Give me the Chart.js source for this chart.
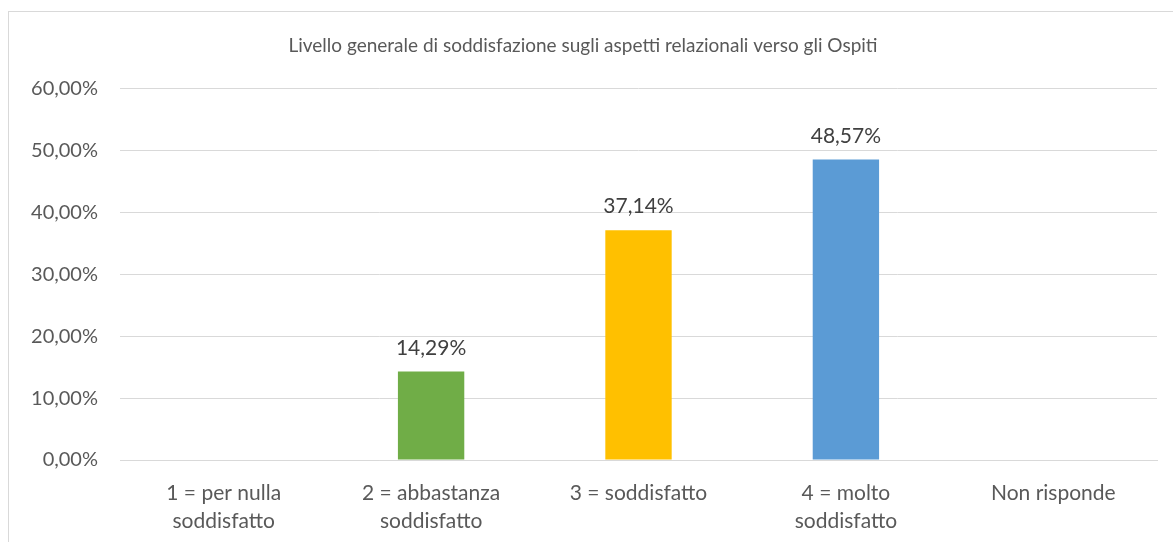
<!DOCTYPE html>
<html>
<head>
<meta charset="utf-8">
<script src="https://cdn.jsdelivr.net/npm/chart.js@4/dist/chart.umd.min.js"></script>
<style>
    html, body { margin: 0; padding: 0; background: #fff; overflow: hidden; }
    #box {
        position: absolute; left: 8px; top: 11px;
        width: 1174px; height: 560px;
        border: 1px solid #d9d9d9;
    }
    #chart { display: block; }
</style>
</head>
<body>
<div id="box"><canvas id="chart" width="1174" height="530"></canvas></div>
<script>
// Dati del grafico
const categorie = [
    ['1 = per nulla', 'soddisfatto'],
    ['2 = abbastanza', 'soddisfatto'],
    '3 = soddisfatto',
    ['4 = molto', 'soddisfatto'],
    'Non risponde'
];
const percentuali = [0, 14.29, 37.14, 48.57, 0];
const colori = ['#a5a5a5', '#70ad47', '#ffc000', '#5b9bd5', '#4472c4'];
const titolo = 'Livello generale di soddisfazione sugli aspetti relazionali verso gli Ospiti';

const fmt = v => v.toFixed(2).replace('.', ',') + '%';

// Etichette sopra le barre
const etichette = {
    id: 'etichette',
    afterDatasetsDraw(chart) {
        const ctx = chart.ctx;
        const meta = chart.getDatasetMeta(0);
        ctx.save();
        ctx.font = '21px Lato';
        ctx.fillStyle = '#404040';
        ctx.textAlign = 'center';
        ctx.textBaseline = 'alphabetic';
        meta.data.forEach((bar, i) => {
            const v = percentuali[i];
            if (!v) return;
            ctx.fillText(fmt(v), bar.x, bar.y - 17);
        });
        ctx.restore();
    }
};

new Chart(document.getElementById('chart'), {
    type: 'bar',
    data: {
        labels: categorie,
        datasets: [{
            data: percentuali,
            backgroundColor: colori,
            barPercentage: 0.32,
            categoryPercentage: 1
        }]
    },
    options: {
        responsive: false,
        animation: false,
        layout: { padding: { left: 0, right: 26, top: 0, bottom: 0 } },
        plugins: {
            legend: { display: false },
            tooltip: { enabled: false },
            title: {
                display: true,
                text: titolo,
                color: '#595959',
                font: { family: 'Lato', size: 19, weight: 'normal', lineHeight: 1.2 },
                padding: { top: 22, bottom: 32 }
            }
        },
        scales: {
            y: {
                min: 0,
                max: 60,
                ticks: {
                    stepSize: 10,
                    callback: v => fmt(v),
                    color: '#595959',
                    font: { family: 'Lato', size: 20 },
                    padding: 22
                },
                grid: { color: '#d9d9d9', drawTicks: false },
                border: { display: false },
                afterFit: s => { s.width = 111; }
            },
            x: {
                ticks: {
                    color: '#595959',
                    font: { family: 'Lato', size: 21, lineHeight: 1.3 },
                    padding: 12,
                    maxRotation: 0,
                    autoSkip: false
                },
                grid: { display: false },
                border: { color: '#d9d9d9' },
                afterFit: s => { s.height = 82; }
            }
        }
    },
    plugins: [etichette]
});
</script>
</body>
</html>
